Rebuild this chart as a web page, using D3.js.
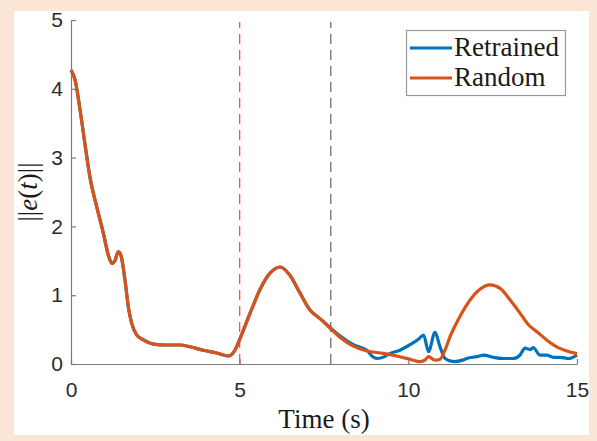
<!DOCTYPE html>
<html>
<head>
<meta charset="utf-8">
<script src="https://cdn.jsdelivr.net/npm/d3@7"></script>
<style>
  html, body { margin: 0; padding: 0; background: #fbe5d6; }
  svg { display: block; }
</style>
</head>
<body>
<svg id="chart" width="597" height="441"></svg>
<script>
// Error norm over time for the two controllers
const randomT = [0, 0.12, 0.27, 0.41, 0.56, 0.76, 0.96, 1.12, 1.22, 1.30, 1.40, 1.48, 1.60, 1.70, 1.80, 1.95,
  2.15, 2.44, 2.84, 3.23, 3.53, 3.92, 4.32, 4.66, 4.86, 5.01, 5.31, 5.60, 5.90, 6.20, 6.49, 6.79, 7.09, 7.38,
  7.68, 7.97, 8.37, 8.77, 9.26, 9.75, 10.05, 10.35, 10.50, 10.60, 10.79, 10.94, 11.10, 11.24, 11.53, 11.83,
  12.13, 12.42, 12.72, 13.02, 13.31, 13.56, 13.81, 14.10, 14.40, 14.70, 15.00];
const randomV = [4.27, 4.13, 3.69, 3.21, 2.72, 2.29, 1.90, 1.56, 1.46, 1.50, 1.63, 1.58, 1.22, 0.83, 0.59, 0.42,
  0.35, 0.29, 0.276, 0.276, 0.25, 0.20, 0.16, 0.116, 0.20, 0.37, 0.74, 1.08, 1.32, 1.41, 1.29, 1.03, 0.78, 0.66,
  0.52, 0.39, 0.26, 0.19, 0.155, 0.106, 0.07, 0.034, 0.06, 0.107, 0.055, 0.07, 0.22, 0.40, 0.69, 0.93,
  1.09, 1.15, 1.10, 0.93, 0.74, 0.57, 0.47, 0.35, 0.25, 0.19, 0.15];

const retrainedT = [0, 0.12, 0.27, 0.41, 0.56, 0.76, 0.96, 1.12, 1.22, 1.30, 1.40, 1.48, 1.60, 1.70, 1.80, 1.95,
  2.15, 2.44, 2.84, 3.23, 3.53, 3.92, 4.32, 4.66, 4.86, 5.01, 5.31, 5.60, 5.90, 6.20, 6.49, 6.79, 7.09, 7.38,
  7.68, 7.97, 8.37, 8.77, 8.96, 9.10, 9.26, 9.46, 9.75, 10.05, 10.30, 10.45, 10.60, 10.79, 10.94, 11.09, 11.34,
  11.63, 11.73, 12.03, 12.23, 12.52, 12.82, 13.11, 13.31, 13.46, 13.61, 13.70, 13.90, 14.10, 14.30, 14.50,
  14.75, 15.00];
const retrainedV = [4.27, 4.13, 3.69, 3.21, 2.72, 2.29, 1.90, 1.56, 1.46, 1.50, 1.63, 1.58, 1.22, 0.83, 0.59, 0.42,
  0.35, 0.29, 0.276, 0.276, 0.25, 0.20, 0.16, 0.116, 0.20, 0.37, 0.74, 1.08, 1.32, 1.41, 1.29, 1.03, 0.78, 0.66,
  0.53, 0.41, 0.28, 0.20, 0.10, 0.08, 0.10, 0.155, 0.20, 0.28, 0.36, 0.42, 0.18, 0.46, 0.25, 0.08, 0.034,
  0.06, 0.08, 0.107, 0.13, 0.097, 0.08, 0.08, 0.13, 0.23, 0.21, 0.24, 0.13, 0.13, 0.097, 0.097,
  0.08, 0.13];

const xTicks = [0, 5, 10, 15];
const yTicks = [0, 1, 2, 3, 4, 5];
const markerTimes = [5, 7.7];          // red: disturbance, gray: switch
const seriesNames = ["Retrained", "Random"];

const svg = d3.select("#chart");

// white figure panel
svg.append("rect").attr("x", 14).attr("y", 11).attr("width", 575).attr("height", 424).attr("fill", "#ffffff");

const x = d3.scaleLinear().domain([0, 15]).range([71, 577]);
const y = d3.scaleLinear().domain([0, 5]).range([364, 20]);

const tickFont = "'Liberation Sans', Arial, Helvetica, sans-serif";
const serif = "'Liberation Serif', 'Times New Roman', serif";

// axes (ticks pointing inward)
const gx = svg.append("g").attr("transform", `translate(0,${y(0)})`)
  .call(d3.axisBottom(x).tickValues(xTicks).tickSizeInner(-5).tickSizeOuter(0).tickPadding(18).tickFormat(d3.format("d")));
const gy = svg.append("g").attr("transform", `translate(${x(0)},0)`)
  .call(d3.axisLeft(y).tickValues(yTicks).tickSizeInner(-5).tickSizeOuter(0).tickPadding(8).tickFormat(d3.format("d")));
[gx, gy].forEach(g => {
  g.select(".domain").attr("stroke", "#7a7a7a").attr("stroke-width", 1.2);
  g.selectAll(".tick line").attr("stroke", "#7a7a7a").attr("stroke-width", 1.2);
  g.selectAll(".tick text").attr("fill", "#2b2b2b").style("font-family", tickFont).style("font-size", "21px");
});

// vertical event markers
const markerColors = ["#ff5252", "#6e6e6e"];
svg.append("g").selectAll("line").data(markerTimes).join("line")
  .attr("x1", d => x(d)).attr("x2", d => x(d))
  .attr("y1", y(0)).attr("y2", y(5) + 2)
  .attr("stroke", (d, i) => markerColors[i])
  .attr("stroke-width", 1.3)
  .attr("stroke-dasharray", "10,6");

// series
const line = d3.line().x(d => x(d[0])).y(d => y(d[1])).curve(d3.curveMonotoneX);
const retrained = d3.zip(retrainedT, retrainedV);
const random = d3.zip(randomT, randomV);
const colors = ["#0072bd", "#d95319"];

svg.append("path").datum(retrained).attr("d", line)
  .attr("fill", "none").attr("stroke", colors[0]).attr("stroke-width", 3.2).attr("stroke-linejoin", "round");
svg.append("path").datum(random).attr("d", line)
  .attr("fill", "none").attr("stroke", colors[1]).attr("stroke-width", 3.2).attr("stroke-linejoin", "round");

// axis labels
svg.append("text").attr("x", (x(0) + x(15)) / 2).attr("y", 428)
  .attr("text-anchor", "middle").attr("fill", "#1a1a1a")
  .style("font-family", serif).style("font-size", "27px").text("Time (s)");

const yl = svg.append("text")
  .attr("transform", `translate(37,${(y(0) + y(5)) / 2}) rotate(-90)`)
  .attr("text-anchor", "middle").attr("fill", "#1a1a1a")
  .style("font-family", serif).style("font-size", "27px");
yl.append("tspan").text("||");
yl.append("tspan").style("font-style", "italic").text("e");
yl.append("tspan").text("(");
yl.append("tspan").style("font-style", "italic").text("t");
yl.append("tspan").text(")||");

// legend
const lg = svg.append("g");
lg.append("rect").attr("x", 406.5).attr("y", 30.5).attr("width", 159).attr("height", 65)
  .attr("fill", "#ffffff").attr("stroke", "#999999").attr("stroke-width", 1.2);
const items = lg.selectAll("g.item").data(seriesNames).join("g").attr("class", "item")
  .attr("transform", (d, i) => `translate(0,${48 + i * 30})`);
items.append("line").attr("x1", 410).attr("x2", 452).attr("y1", 0).attr("y2", 0)
  .attr("stroke", (d, i) => colors[i]).attr("stroke-width", 3.2);
items.append("text").attr("x", 454).attr("y", 7.5).attr("fill", "#1a1a1a")
  .style("font-family", serif).style("font-size", "27px").text(d => d);
</script>
</body>
</html>
